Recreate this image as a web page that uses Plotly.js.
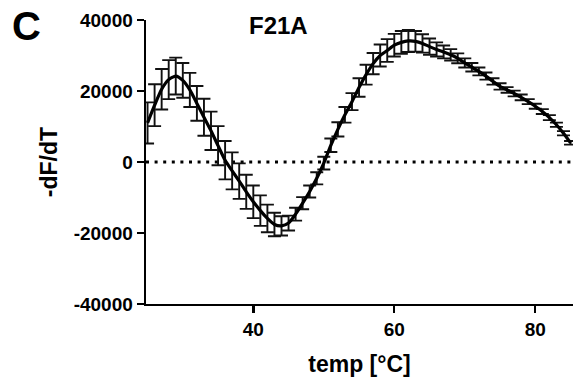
<!DOCTYPE html>
<html>
<head>
<meta charset="utf-8">
<script src="https://cdn.plot.ly/plotly-3.0.1.min.js"></script>
<style>
  html, body { margin: 0; padding: 0; background: #fff; }
  #chart { width: 574px; height: 378px; }
</style>
</head>
<body>
<div id="chart"></div>
<script>
const temps = [25,26,27,28,29,30,31,32,33,34,35,36,37,38,39,40,41,42,43,44,45,46,47,48,49,50,51,52,53,54,55,56,57,58,59,60,61,62,63,64,65,66,67,68,69,70,71,72,73,74,75,76,77,78,79,80,81,82,83,84,85];
const meanDFdT = [11000,16000,20500,23200,24200,23000,20300,16500,12600,8800,4600,500,-2500,-5400,-8400,-11200,-13700,-15900,-17600,-18000,-17200,-14700,-11600,-8300,-4600,-300,4700,9200,13300,17000,21000,24600,27700,30000,31400,32900,33700,34100,34000,33400,32500,31700,31000,30200,29200,27900,26700,25500,24200,22700,21300,20300,19300,18200,17000,15700,14200,12500,10500,8100,5400];
const errDFdT = [5800,5900,5700,5500,5200,4900,4800,4900,5200,5400,5500,5400,5200,5000,4800,4600,4300,3900,3300,2700,2100,1800,1700,1700,1700,1800,1900,2000,2200,2400,2600,2800,3000,3100,3200,3200,3200,3100,2900,2600,2300,2000,1800,1600,1400,1300,1200,1100,1000,900,900,800,800,800,700,700,700,700,600,600,500];
const yTicks = [-40000,-20000,0,20000,40000];
const xTicks = [40,60,80];
const panelLabel = "C";
const chartTitle = "F21A";
const xTitle = "temp [°C]";
const yTitle = "-dF/dT";

const FONT = "Liberation Sans, Arial, Helvetica, sans-serif";

const trace = {
  x: temps,
  y: meanDFdT,
  type: "scatter",
  mode: "lines",
  line: { color: "#000", width: 3.2, shape: "spline", smoothing: 0.6 },
  error_y: { type: "data", array: errDFdT, visible: true, color: "#111", thickness: 1.9, width: 6.5 },
  showlegend: false,
  hoverinfo: "skip"
};

const layout = {
  width: 574, height: 378,
  margin: { l: 146, r: 1, t: 20, b: 74, pad: 0 },
  paper_bgcolor: "#fff", plot_bgcolor: "#fff",
  font: { family: FONT, color: "#000", size: 19, weight: "bold" },
  showlegend: false,
  xaxis: {
    range: [24.78, 85.35],
    tickvals: xTicks, ticktext: xTicks.map(String),
    showgrid: false, zeroline: false,
    showline: true, linecolor: "#000", linewidth: 2.4,
    ticks: "outside", ticklen: 7, tickwidth: 2.4, tickcolor: "#000",
    tickfont: { family: FONT, size: 19, color: "#000", weight: "bold" },
    title: { text: xTitle, font: { family: FONT, size: 23, color: "#000", weight: "bold" }, standoff: 17 }
  },
  yaxis: {
    range: [-40000, 40000],
    tickvals: yTicks, ticktext: yTicks.map(String),
    showgrid: false, zeroline: false,
    showline: true, linecolor: "#000", linewidth: 2.4,
    ticks: "outside", ticklen: 7, tickwidth: 2.4, tickcolor: "#000",
    tickfont: { family: FONT, size: 19, color: "#000", weight: "bold" },
    title: { text: yTitle, font: { family: FONT, size: 23, color: "#000", weight: "bold" }, standoff: 10 }
  },
  shapes: [{
    type: "line", xref: "paper", yref: "y",
    x0: 0, x1: 1, y0: 0, y1: 0,
    line: { color: "#000", width: 3, dash: "3px,5.6px" },
    layer: "below"
  }],
  annotations: [
    { text: panelLabel, xref: "paper", yref: "paper", x: -0.279, y: 0.979, xanchor: "center", yanchor: "middle",
      showarrow: false, font: { family: FONT, size: 40, color: "#000", weight: "bold" } },
    { text: chartTitle, xref: "paper", yref: "paper", x: 0.31, y: 0.98, xanchor: "center", yanchor: "middle",
      showarrow: false, font: { family: FONT, size: 24, color: "#000", weight: "bold" } }
  ]
};

Plotly.newPlot("chart", [trace], layout, { displayModeBar: false, staticPlot: true });
</script>
</body>
</html>
